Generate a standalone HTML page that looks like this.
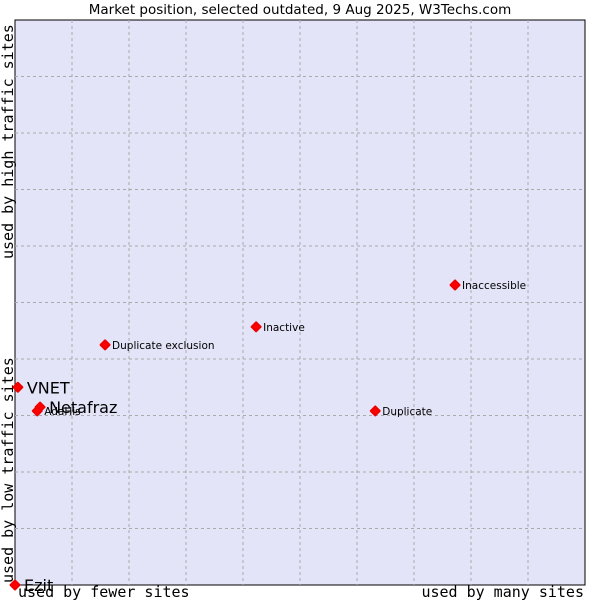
<!DOCTYPE html>
<html><head><meta charset="utf-8"><style>
body{margin:0;background:#fff;width:600px;height:600px;overflow:hidden}
</style></head><body>
<svg id="chart" width="600" height="600" xmlns="http://www.w3.org/2000/svg">
<text x="300" y="14" text-anchor="middle" font-family="DejaVu Sans, sans-serif" font-size="13.5">Market position, selected outdated, 9 Aug 2025, W3Techs.com</text>
<rect x="15" y="20" width="570" height="565" fill="#e3e4f7" stroke="#000" stroke-width="1"/>
<g id="grid"></g>
<text x="18" y="597" font-family="DejaVu Sans Mono, monospace" font-size="15">used by fewer sites</text>
<text x="584" y="597" text-anchor="end" font-family="DejaVu Sans Mono, monospace" font-size="15">used by many sites</text>
<text transform="translate(13,583) rotate(-90)" font-family="DejaVu Sans Mono, monospace" font-size="15">used by low traffic sites</text>
<text transform="translate(13,259) rotate(-90)" font-family="DejaVu Sans Mono, monospace" font-size="15">used by high traffic sites</text>
<g id="points"></g>
</svg>
<script>
const names=["VNET","Netafraz","AdaHis","Duplicate exclusion","Inactive","Inaccessible","Duplicate","Ezit"];
const xVals=[0.5,4.4,3.9,15.8,42.3,77.2,63.2,0];
const yVals=[35,31.5,30.8,42.5,45.7,53.1,30.8,0];
const bigLabel=[true,true,false,false,false,false,false,true];
const NS="http://www.w3.org/2000/svg";
const L=15,R=585,T=20,B=585;
function sx(v){return L+v/100*(R-L);}
function sy(v){return B-v/100*(B-T);}
const grid=document.getElementById('grid');
for(let i=1;i<10;i++){
 const gx=document.createElementNS(NS,'line');
 
 
 const x=L+i*(R-L)/10;
 gx.setAttribute('x1',x);gx.setAttribute('x2',x);gx.setAttribute('y1',T);gx.setAttribute('y2',B);
 gx.setAttribute('stroke','#aaa');gx.setAttribute('stroke-dasharray','3,3');
 grid.appendChild(gx);
 const gy=document.createElementNS(NS,'line');
 
 
 const y=T+i*(B-T)/10;
 gy.setAttribute('y1',y);gy.setAttribute('y2',y);gy.setAttribute('x1',L);gy.setAttribute('x2',R);
 gy.setAttribute('stroke','#aaa');gy.setAttribute('stroke-dasharray','3,3');
 grid.appendChild(gy);
}
const pts=document.getElementById('points');
names.forEach((n,i)=>{
 const x=sx(xVals[i]),y=sy(yVals[i]);
 const m=document.createElementNS(NS,'polygon');
 
 
 m.setAttribute('points',`${x},${y-4.5} ${x+4.5},${y} ${x},${y+4.5} ${x-4.5},${y}`);
 m.setAttribute('fill','#f00');m.setAttribute('stroke','#e00');m.setAttribute('stroke-width','2');m.setAttribute('stroke-linejoin','round');
 pts.appendChild(m);
 const t=document.createElementNS(NS,'text');
 
 
 t.setAttribute('font-family','DejaVu Sans, sans-serif');
 if(bigLabel[i]){t.setAttribute('font-size','16');t.setAttribute('x',x+9);t.setAttribute('y',y+6);}
 else{t.setAttribute('font-size','10.5');t.setAttribute('x',x+7);t.setAttribute('y',y+4);}
 t.textContent=n;
 pts.appendChild(t);
});
</script>
</body></html>
